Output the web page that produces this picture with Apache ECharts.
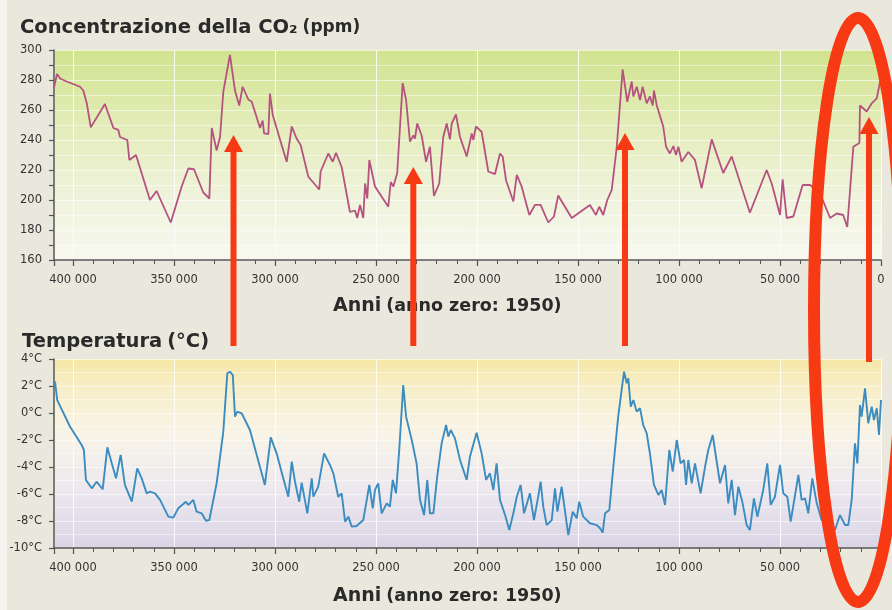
<!DOCTYPE html>
<html><head><meta charset="utf-8">
<script src="https://cdn.jsdelivr.net/npm/echarts@6/dist/echarts.min.js"></script>
<style>html,body{margin:0;padding:0;background:#eae8dd;}#c{width:892px;height:610px;}</style>
</head><body><div id="c"></div>
<script>
// ---- Data (years before 1950) ----
const co2Years = [409400, 407900, 406400, 403100, 396500, 394900, 393200, 391200, 384200, 380000,
  377600, 376700, 373100, 372100, 368800, 361900, 358600, 351600, 346200, 342900,
  340100, 335500, 332500, 331300, 328900, 327200, 325600, 322300, 319800, 317700,
  316000, 313200, 311500, 307400, 306100, 305400, 303300, 302500, 301100, 297900,
  294200, 291700, 289300, 287300, 283500, 278100, 277400, 273600, 271400, 269800,
  267000, 262900, 260400, 259300, 257900, 256300, 255400, 254300, 253300, 250500,
  243900, 242700, 241400, 239500, 236800, 235100, 233200, 231500, 230700, 229600,
  227400, 225200, 223300, 221300, 218700, 216700, 215000, 213400, 212500, 210400,
  208400, 205100, 202600, 201800, 200500, 197700, 194400, 191100, 188600, 187300,
  185600, 182000, 180300, 177900, 174100, 171300, 168500, 164700, 161900, 159800,
  153100, 144100, 141100, 139500, 137500, 135500, 133300, 130800, 127900, 125600,
  123400, 122600, 120900, 119300, 118000, 116000, 114400, 113000, 112400, 111000,
  107800, 106400, 104500, 102800, 101500, 100300, 98700, 95400, 92100, 88800,
  83800, 78100, 73900, 64900, 56600, 54100, 50000, 48700, 46700, 43400,
  38800, 35100, 30200, 25200, 21900, 18700, 16700, 13700, 10700, 10400,
  7100, 4600, 2100, 0];
const co2Ppm = [275, 284, 281, 279, 275.5, 273, 264.7, 248.4, 264, 248,
  246.7, 242, 240, 226.7, 230, 200, 206, 185, 209, 221,
  220.5, 205, 201, 248, 233, 242, 272, 296.7, 273, 263,
  275.5, 267, 265.5, 248, 253, 244.4, 244, 271, 256.7, 242,
  225.5, 249, 241, 236.7, 215.5, 207, 219, 231, 225.5, 231.5,
  222, 192, 193, 188, 196.7, 188, 211, 201, 226.7, 209,
  195.5, 212, 209, 218, 278, 266.7, 239, 243, 241, 251,
  243, 225.5, 235.5, 202.7, 211, 242, 251, 240.4, 251, 257,
  242, 229, 244.4, 240, 249, 245.5, 219, 217.3, 231, 229,
  213, 199, 216.7, 209, 190, 196.7, 196.7, 185, 189, 203,
  188, 196.7, 190, 195.5, 190, 200, 206.7, 235.5, 287, 265.5,
  279, 269, 275.5, 266.7, 275.5, 264.4, 269, 263, 273, 263,
  249, 235.5, 231, 236, 230, 235.5, 225.5, 232, 226.7, 207.8,
  240.4, 218, 229, 191.5, 220, 211, 190, 213.8, 188, 189,
  210, 210, 204.4, 188, 191, 190, 182, 235.5, 238, 263,
  259, 264.4, 267.8, 282];

const tempYears = [409300, 408900, 407800, 401500, 395700, 394600, 393600, 390700, 388300, 385300,
  383000, 380800, 378700, 376400, 374300, 370900, 368200, 366000, 363500, 361900,
  359400, 356900, 352800, 350300, 347900, 344100, 342900, 340400, 338800, 336300,
  334200, 332500, 328900, 325600, 323600, 322300, 320900, 319800, 318700, 316500,
  312400, 305000, 302100, 299200, 295900, 293400, 291700, 290100, 288000, 286800,
  284000, 281800, 281000, 278600, 275700, 272800, 271100, 268700, 267000, 265300,
  263700, 262000, 259600, 256300, 253300, 251600, 250500, 248900, 247200, 244700,
  243100, 241700, 240100, 238500, 236500, 235100, 232300, 229900, 228200, 226200,
  224600, 223300, 221600, 219700, 217500, 215300, 214200, 213000, 210900, 208400,
  205100, 203500, 200200, 197700, 195500, 193600, 191900, 190300, 188600, 186100,
  184000, 182000, 180300, 178400, 176700, 173800, 171800, 169700, 168500, 167200,
  165500, 163000, 161400, 160200, 158100, 154800, 152600, 150600, 149400, 147400,
  144100, 140700, 139100, 137800, 136600, 134500, 132500, 130100, 128400, 127200,
  125900, 125100, 123900, 122600, 120900, 119300, 117700, 116000, 114400, 112400,
  110200, 108600, 106900, 104800, 103100, 101100, 99200, 97500, 96500, 95400,
  93700, 92100, 89300, 87100, 85500, 83300, 81700, 79700, 77200, 75600,
  73900, 72300, 70600, 68500, 66500, 64900, 62900, 61200, 58300, 56300,
  54600, 52500, 50000, 48400, 46400, 44700, 40900, 39300, 37600, 36000,
  34000, 31800, 29400, 25200, 22800, 20300, 17800, 16200, 14500, 12900,
  11700, 10400, 9600, 7900, 6300, 4600, 3500, 2100, 1000, 0];
const tempValues = [1.95, 2.32, 0.96, -1.0, -2.37, -2.74, -4.96, -5.58, -5.09, -5.65,
  -2.54, -3.73, -4.84, -3.11, -5.33, -6.57, -4.1, -4.84, -5.95, -5.83,
  -5.95, -6.44, -7.68, -7.75, -7.06, -6.57, -6.81, -6.44, -7.31, -7.43,
  -7.98, -7.93, -5.21, -1.39, 2.94, 3.06, 2.81, -0.27, 0.1, -0.02,
  -1.26, -5.33, -1.8, -2.99, -4.84, -6.2, -3.6, -5.09, -6.57, -5.16,
  -7.43, -4.84, -6.2, -5.46, -2.99, -3.85, -4.47, -6.2, -5.95, -8.05,
  -7.68, -8.42, -8.37, -7.93, -5.33, -7.06, -5.7, -5.21, -7.43, -6.69,
  -6.94, -4.96, -5.95, -2.74, 2.07, -0.27, -2.0, -3.73, -6.44, -7.56,
  -4.96, -7.43, -7.43, -4.72, -2.25, -0.89, -1.75, -1.26, -1.88, -3.48,
  -4.96, -3.24, -1.46, -2.99, -4.96, -4.47, -5.7, -3.73, -6.44, -7.56,
  -8.67, -7.43, -6.2, -5.33, -7.43, -5.95, -7.93, -6.2, -5.09, -6.94,
  -8.3, -7.93, -5.58, -7.31, -5.46, -9.04, -7.31, -7.8, -6.57, -7.68,
  -8.17, -8.3, -8.54, -8.86, -7.43, -7.19, -3.98, -0.27, 1.7, 3.06,
  2.2, 2.57, 0.47, 0.96, 0.1, 0.35, -0.89, -1.5, -2.99, -5.33,
  -6.07, -5.7, -6.81, -2.74, -4.35, -2.0, -3.73, -3.48, -5.33, -3.48,
  -5.21, -3.73, -5.95, -3.98, -2.74, -1.63, -3.24, -5.21, -3.85, -6.69,
  -4.96, -7.56, -5.46, -6.69, -8.3, -8.67, -6.32, -7.68, -5.7, -3.73,
  -6.81, -6.2, -3.85, -5.95, -6.2, -8.05, -4.59, -6.44, -6.32, -7.43,
  -4.84, -6.69, -7.93, -8.17, -8.67, -7.56, -8.3, -8.3, -6.44, -2.25,
  -3.73, 0.59, -0.27, 1.83, -0.76, 0.47, -0.52, 0.35, -1.63, 0.96];

const co2Ticks = [160, 300, 20];
const tempTicks = [-10, 4, 2];
const yearRange = [0, 409400, 50000];

// ---- Styling ----
const FONT = 'DejaVu Sans';
const RED = '#f83a14';
const AXIS = '#555555';

function xAxis(gridIndex, margin) {
  return {
    type: 'value', gridIndex: gridIndex, inverse: true,
    min: yearRange[0], max: yearRange[1], interval: yearRange[2],
    axisLine: { show: true, onZero: false, lineStyle: { color: AXIS, width: 1.5 } },
    axisTick: { show: true, length: 6, lineStyle: { color: AXIS, width: 1.2 } },
    minorTick: { show: true, splitNumber: 5, length: 4, lineStyle: { color: AXIS, width: 1 } },
    axisLabel: {
      color: '#333333', fontFamily: FONT, fontSize: 11.5, margin: margin,
      formatter: function (v) {
        if (v % 50000 !== 0) return '';
        return v === 0 ? '0' : (v / 1000) + ' 000';
      }
    },
    splitLine: { show: true, lineStyle: { color: 'rgba(255,255,255,0.8)', width: 1 } }
  };
}
function yAxis(gridIndex, t, fmt, minor) {
  return {
    type: 'value', gridIndex: gridIndex, min: t[0], max: t[1], interval: t[2], position: 'left',
    axisLine: { show: true, onZero: false, lineStyle: { color: AXIS, width: 1.5 } },
    axisTick: { show: true, length: 5, lineStyle: { color: AXIS, width: 1.2 } },
    minorTick: { show: minor, splitNumber: 2, length: 5, lineStyle: { color: AXIS, width: 1.2 } },
    axisLabel: { color: '#333333', fontFamily: FONT, fontSize: 11.5, margin: 12, formatter: fmt },
    splitLine: { show: true, lineStyle: { color: 'rgba(255,255,255,0.6)', width: 1 } },
    minorSplitLine: { show: true, lineStyle: { color: 'rgba(255,255,255,0.45)', width: 1 } }
  };
}
function titleRich(big, small) {
  return {
    a: { fontFamily: FONT, fontWeight: 'bold', fontSize: big, color: '#2a2a2a' },
    b: { fontFamily: FONT, fontWeight: 'bold', fontSize: small, color: '#2a2a2a' }
  };
}
function arrow(x, yBottom, yTip) {
  return [
    { type: 'line', shape: { x1: x, y1: yBottom, x2: x, y2: yTip + 15 }, style: { stroke: RED, lineWidth: 6 }, z: 100, silent: true },
    { type: 'polygon', shape: { points: [[x - 9.5, yTip + 17], [x + 9.5, yTip + 17], [x, yTip]] }, style: { fill: RED }, z: 100, silent: true }
  ];
}

const chart = echarts.init(document.getElementById('c'), null, { renderer: 'canvas' });
chart.setOption({
  animation: false,
  backgroundColor: '#eae8dd',
  title: [
    { text: '{a|Concentrazione della CO₂} {b|(ppm)}', left: 20, top: 18, padding: 0, textStyle: { rich: titleRich(19.5, 17) } },
    { text: '{a|Anni} {b|(anno zero: 1950)}', left: 333, top: 297, padding: 0, textStyle: { rich: titleRich(19, 17.5) } },
    { text: '{a|Temperatura} {b|(°C)}', left: 22, top: 332, padding: 0, textStyle: { rich: titleRich(19.5, 19.5) } },
    { text: '{a|Anni} {b|(anno zero: 1950)}', left: 333, top: 587, padding: 0, textStyle: { rich: titleRich(19, 17.5) } }
  ],
  grid: [
    { left: 54, right: 11, top: 50, height: 210, show: true, borderWidth: 0,
      backgroundColor: { type: 'linear', x: 0, y: 0, x2: 0, y2: 1, colorStops: [
        { offset: 0, color: '#d1e38e' }, { offset: 0.35, color: '#e3ecb8' },
        { offset: 0.7, color: '#f0f3dc' }, { offset: 1, color: '#f8f8f0' }] } },
    { left: 54, right: 11, top: 359, height: 189, show: true, borderWidth: 0,
      backgroundColor: { type: 'linear', x: 0, y: 0, x2: 0, y2: 1, colorStops: [
        { offset: 0, color: '#f5e7a6' }, { offset: 0.15, color: '#f7eec8' },
        { offset: 0.4, color: '#f8f4e8' }, { offset: 0.7, color: '#ece8ee' }, { offset: 1, color: '#dad5e6' }] } }
  ],
  xAxis: [xAxis(0, 14), xAxis(1, 14)],
  yAxis: [
    yAxis(0, co2Ticks, function (v) { return String(v); }, true),
    yAxis(1, tempTicks, function (v) { return v + '°C'; }, false)
  ],
  series: [
    { type: 'line', xAxisIndex: 0, yAxisIndex: 0, showSymbol: false, silent: true,
      data: co2Years.map(function (y, i) { return [y, co2Ppm[i]]; }),
      lineStyle: { color: '#b5527f', width: 1.8 } },
    { type: 'line', xAxisIndex: 1, yAxisIndex: 1, showSymbol: false, silent: true,
      data: tempYears.map(function (y, i) { return [y, tempValues[i]]; }),
      lineStyle: { color: '#3b8cc0', width: 1.9 } }
  ],
  graphic: [
    { type: 'rect', shape: { x: 0, y: 0, width: 7, height: 610 }, style: { fill: '#f4f3ee' }, z: -1, silent: true },
    { type: 'ellipse', shape: { cx: 858, cy: 310, rx: 44, ry: 292 }, style: { fill: 'none', stroke: RED, lineWidth: 12 }, z: 100, silent: true }
  ].concat(arrow(233.5, 346, 135), arrow(413.3, 346, 167), arrow(625, 346, 133), arrow(869, 362, 117))
});
</script></body></html>
